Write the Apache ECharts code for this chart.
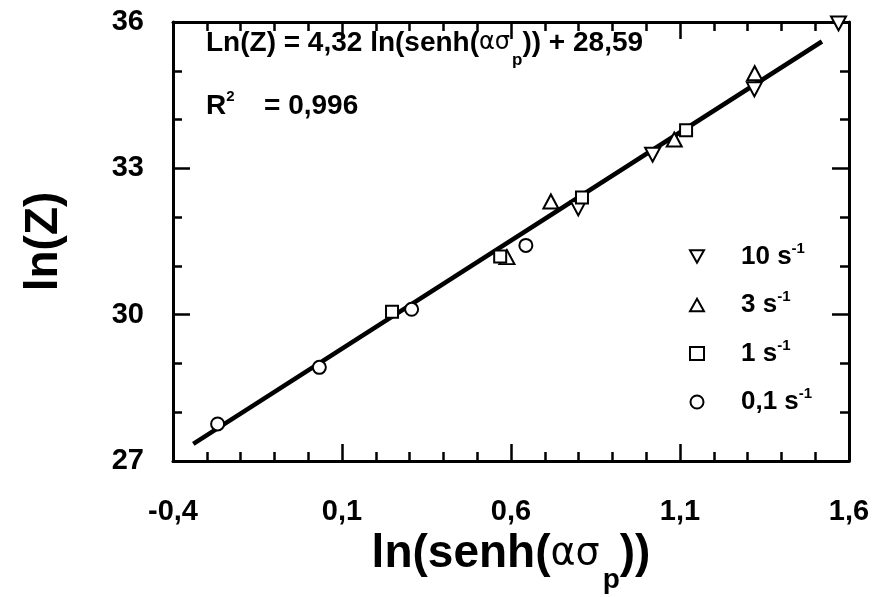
<!DOCTYPE html>
<html><head><meta charset="utf-8">
<script src="https://cdn.jsdelivr.net/npm/echarts@6/dist/echarts.min.js"></script>
<style>html,body{margin:0;padding:0;background:#fff}#c{width:882px;height:597px}</style>
</head><body><div id="c"></div>
<script>
// ---- data ----
const xTicks = [-0.4, 0.1, 0.6, 1.1, 1.6];
const yTicks = [27, 30, 33, 36];
const rates = ['10', '3', '1', '0,1'];
const x10 = [0.799, 1.019, 1.320, 1.569];
const y10 = [32.18, 33.28, 34.62, 35.97];
const x3 = [0.588, 0.718, 1.083, 1.321];
const y3 = [31.18, 32.32, 33.59, 34.95];
const x1 = [0.248, 0.568, 0.810, 1.118];
const y1 = [30.06, 31.19, 32.40, 33.78];
const x01 = [-0.268, 0.033, 0.306, 0.644];
const y01 = [27.76, 28.92, 30.11, 31.42];
const fitX = [-0.34, 1.52];
const fitY = [27.35, 35.6];

const F = '"Liberation Sans", Arial, sans-serif';
const zip = (a, b) => a.map((v, i) => [v, b[i]]);
const fmt = v => (Math.round(v * 10) / 10).toFixed(v % 1 === 0 ? 0 : 1).replace('.', ',');

const xMin = xTicks[0], xMax = xTicks[xTicks.length - 1];
const xInt = Math.round((xTicks[1] - xTicks[0]) * 10) / 10;
const yMin = yTicks[0], yMax = yTicks[yTicks.length - 1];
const yInt = yTicks[1] - yTicks[0];

const lineS = { color: '#000', width: 3 };
const tickS = { color: '#000', width: 2.5 };

function xAx(pos, labels) {
  return {
    type: 'value', position: pos, min: xMin, max: xMax, interval: xInt,
    axisLine: { show: true, onZero: false, lineStyle: lineS },
    axisTick: { show: true, inside: true, length: 17, lineStyle: tickS },
    minorTick: { show: true, splitNumber: 5, length: 9, lineStyle: tickS },
    splitLine: { show: false },
    axisLabel: labels ? { show: true, margin: 36, color: '#000', fontFamily: F, fontWeight: 'bold', fontSize: 29, formatter: v => fmt(v) } : { show: false },
    name: labels ? '{a|ln(senh(}{g|ασ}{s|p}{a|))}' : '',
    nameLocation: 'middle', nameGap: 68,
    nameTextStyle: { rich: {
      a: { fontFamily: F, fontWeight: 'bold', fontSize: 46, color: '#000', lineHeight: 48, verticalAlign: 'middle' },
      g: { fontFamily: '"DejaVu Sans", sans-serif', fontWeight: 'normal', fontSize: 38, color: '#000', lineHeight: 48, verticalAlign: 'middle' },
      s: { fontFamily: F, fontWeight: 'bold', fontSize: 28, color: '#000', lineHeight: 30, verticalAlign: 'bottom', padding: [0, 0, -16, 3] }
    } }
  };
}
function yAx(pos, labels) {
  return {
    type: 'value', position: pos, min: yMin, max: yMax, interval: yInt,
    axisLine: { show: true, onZero: false, lineStyle: lineS },
    axisTick: { show: true, inside: true, length: 17, lineStyle: tickS },
    minorTick: { show: true, splitNumber: 3, length: 9, lineStyle: tickS },
    splitLine: { show: false },
    axisLabel: labels ? { show: true, margin: 29, color: '#000', fontFamily: F, fontWeight: 'bold', fontSize: 29, padding: [6, 0, 0, 0], formatter: v => fmt(v) } : { show: false },
    name: labels ? 'ln(Z)' : '',
    nameLocation: 'middle', nameGap: 106, nameRotate: 90,
    nameTextStyle: { fontFamily: F, fontWeight: 'bold', fontSize: 46, color: '#000' }
  };
}

const mk = { color: '#fff', borderColor: '#000', borderWidth: 2, opacity: 1 };
const downTri = 'path://M0,0 L20,0 L10,18 Z';
const upTri = 'path://M10,0 L20,18 L0,18 Z';

const option = {
  animation: false,
  backgroundColor: '#fff',
  grid: { left: 173, right: 33, top: 22, bottom: 136, containLabel: false, outerBoundsMode: 'none' },
  xAxis: [xAx('bottom', true), xAx('top', false)],
  yAxis: [yAx('left', true), yAx('right', false)],
  legend: {
    orient: 'vertical', left: 684, top: 236,
    itemWidth: 14, itemHeight: 13, itemGap: 20,
    data: rates,
    formatter: n => '{n|' + n + ' s}{sup|-1}',
    textStyle: { rich: {
      n: { fontFamily: F, fontWeight: 'bold', fontSize: 26, color: '#000', lineHeight: 31, padding: [0, 0, 0, 32] },
      sup: { fontFamily: F, fontWeight: 'bold', fontSize: 15, color: '#000', verticalAlign: 'top', lineHeight: 15 }
    } }
  },
  graphic: [
    { type: 'text', left: 206, top: 29, style: {
      text: '{a|Ln(Z) = 4,32 ln(senh(}{g|ασ}{s|p}{a|)) + 28,59}',
      rich: {
        a: { fontFamily: F, fontWeight: 'bold', fontSize: 28, fill: '#000', lineHeight: 34 },
        g: { fontFamily: '"DejaVu Sans", sans-serif', fontWeight: 'normal', fontSize: 24, fill: '#000', lineHeight: 34 },
        s: { fontFamily: F, fontWeight: 'bold', fontSize: 17, fill: '#000', lineHeight: 17, verticalAlign: 'bottom', padding: [0, 0, -9, 2] }
      } } },
    { type: 'text', left: 206, top: 89, style: {
      text: '{a|R}{sup|2}', rich: {
        a: { fontFamily: F, fontWeight: 'bold', fontSize: 28, fill: '#000', lineHeight: 34 },
        sup: { fontFamily: F, fontWeight: 'bold', fontSize: 15, fill: '#000', lineHeight: 15, verticalAlign: 'top' }
      } } },
    { type: 'text', left: 264, top: 89, style: {
      text: '= 0,996', font: 'bold 28px ' + F, fill: '#000', lineHeight: 34 } }
  ],
  series: [
    { type: 'line', data: zip(fitX, fitY), symbol: 'none', lineStyle: { color: '#000', width: 4.5 }, silent: true, z: 1, legendHoverLink: false },
    { name: rates[0], type: 'scatter', data: zip(x10, y10), symbol: downTri, symbolSize: [15, 14], itemStyle: mk, z: 3 },
    { name: rates[1], type: 'scatter', data: zip(x3, y3), symbol: upTri, symbolSize: [15, 14], itemStyle: mk, z: 3 },
    { name: rates[2], type: 'scatter', data: zip(x1, y1), symbol: 'rect', symbolSize: 12, itemStyle: mk, z: 3 },
    { name: rates[3], type: 'scatter', data: zip(x01, y01), symbol: 'circle', symbolSize: 13, itemStyle: mk, z: 3 }
  ]
};
echarts.init(document.getElementById('c'), null, { renderer: 'canvas' }).setOption(option);
</script></body></html>
